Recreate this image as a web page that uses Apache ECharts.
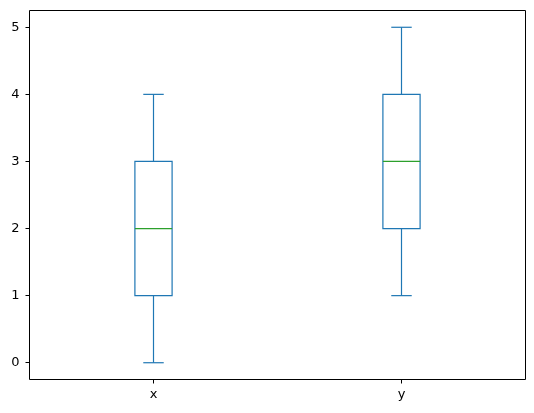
<!DOCTYPE html>
<html><head><meta charset="utf-8">
<script src="https://cdn.jsdelivr.net/npm/echarts@6/dist/echarts.min.js"></script>
<style>html,body{margin:0;padding:0;background:#fff}#c{width:534px;height:413px}</style>
</head><body><div id="c"></div>
<script>
const categories = ['x', 'y'];
// [min, q1, median, q3, max]
const statsX = [0, 1, 2, 3, 4];
const statsY = [1, 2, 3, 4, 5];
const yTicks = [0, 1, 2, 3, 4, 5];

const boxData = [[0].concat(statsX), [1].concat(statsY)];

const chart = echarts.init(document.getElementById('c'), null, {renderer: 'canvas'});
const font = {fontFamily: 'DejaVu Sans', fontSize: 13, color: '#000'};
chart.setOption({
  animation: false,
  grid: {left: 29.5, right: 8.5, top: 10.5, bottom: 33.5, show: true, borderColor: '#000', borderWidth: 1},
  xAxis: {
    type: 'category', data: categories, boundaryGap: true,
    axisLine: {show: false, onZero: false},
    axisTick: {show: true, alignWithLabel: true, length: 4, lineStyle: {color: '#000', width: 1}},
    axisLabel: Object.assign({margin: 9}, font),
    splitLine: {show: false}
  },
  yAxis: {
    type: 'value', min: -0.25, max: 5.25,
    axisLine: {show: false, onZero: false},
    axisTick: {show: true, length: 4, customValues: yTicks, lineStyle: {color: '#000', width: 1}},
    axisLabel: Object.assign({margin: 10, customValues: yTicks}, font),
    splitLine: {show: false}
  },
  series: [{
    type: 'custom',
    data: boxData,
    dimensions: ['cat', 'min', 'q1', 'med', 'q3', 'max'],
    encode: {x: 'cat', y: 'max'},
    silent: true,
    renderItem: function (params, api) {
      const i = api.value(0);
      const band = api.size([1, 0])[0];
      const bw = band * 0.15, cw = bw * 0.55;
      const pMin = api.coord([i, api.value(1)]);
      const pQ1 = api.coord([i, api.value(2)]);
      const pMed = api.coord([i, api.value(3)]);
      const pQ3 = api.coord([i, api.value(4)]);
      const pMax = api.coord([i, api.value(5)]);
      const cx = pMin[0];
      const blue = {stroke: '#1f77b4', lineWidth: 1.2, fill: null};
      return {type: 'group', children: [
        {type: 'rect', shape: {x: cx - bw / 2, y: pQ3[1], width: bw, height: pQ1[1] - pQ3[1]}, style: blue},
        {type: 'line', shape: {x1: cx, y1: pQ1[1], x2: cx, y2: pMin[1]}, style: blue},
        {type: 'line', shape: {x1: cx, y1: pQ3[1], x2: cx, y2: pMax[1]}, style: blue},
        {type: 'line', shape: {x1: cx - cw / 2, y1: pMin[1], x2: cx + cw / 2, y2: pMin[1]}, style: blue},
        {type: 'line', shape: {x1: cx - cw / 2, y1: pMax[1], x2: cx + cw / 2, y2: pMax[1]}, style: blue},
        {type: 'line', shape: {x1: cx - bw / 2, y1: pMed[1], x2: cx + bw / 2, y2: pMed[1]}, style: {stroke: '#2ca02c', lineWidth: 1.2}}
      ]};
    }
  }]
});
</script></body></html>
